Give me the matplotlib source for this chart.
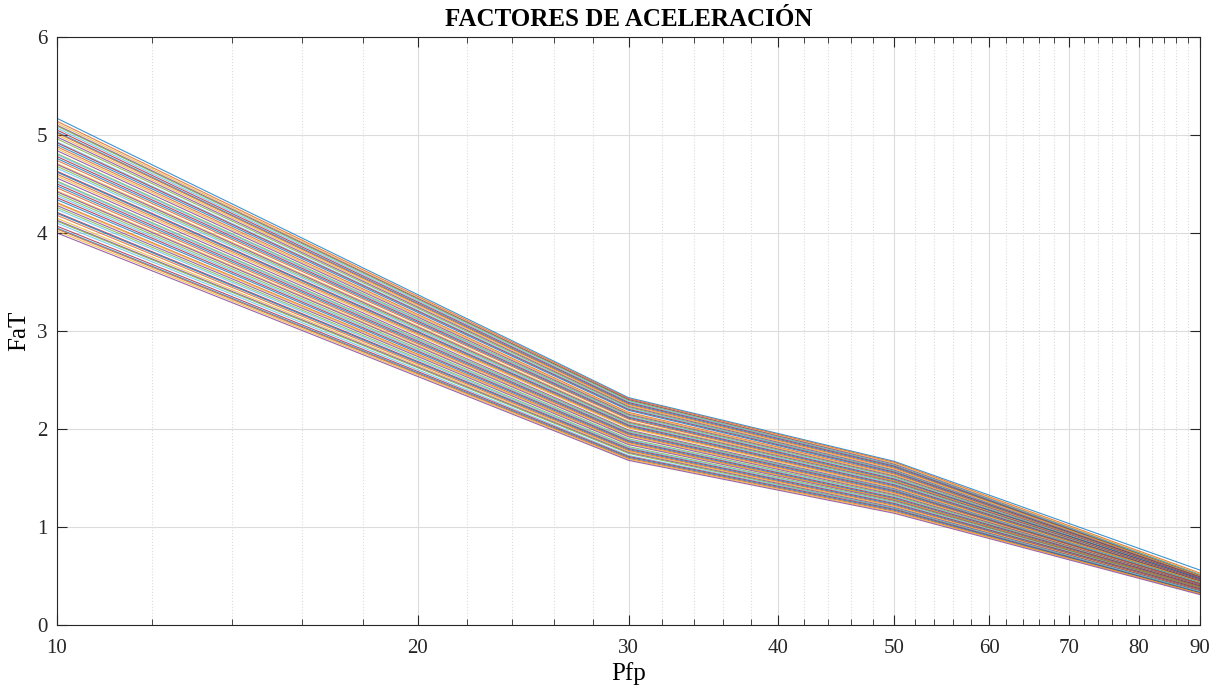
import numpy as np
import matplotlib
matplotlib.use("Agg")
import matplotlib.pyplot as plt
from matplotlib.ticker import FixedLocator, NullFormatter


# Data (one value per curve at each Pfp)

pfp = [10, 30, 50, 90]

fat_10 = [4.00, 4.02, 4.04, 4.05, 4.07, 4.10, 4.12, 4.13, 4.15, 4.18,
          4.20, 4.21, 4.24, 4.26, 4.28, 4.30, 4.31, 4.34, 4.36, 4.38,
          4.40, 4.42, 4.43, 4.46, 4.48, 4.50, 4.52, 4.53, 4.56, 4.58,
          4.60, 4.62, 4.63, 4.66, 4.68, 4.70, 4.71, 4.74, 4.76, 4.78,
          4.80, 4.81, 4.84, 4.86, 4.88, 4.90, 4.92, 4.93, 4.96, 4.98,
          5.00, 5.02, 5.03, 5.05, 5.07, 5.09, 5.10, 5.12, 5.14, 5.17]

fat_30 = [1.68, 1.69, 1.70, 1.71, 1.72, 1.73, 1.75, 1.76, 1.77, 1.78,
          1.79, 1.80, 1.81, 1.82, 1.84, 1.85, 1.86, 1.87, 1.88, 1.89,
          1.90, 1.92, 1.93, 1.94, 1.95, 1.96, 1.97, 1.98, 1.99, 2.01,
          2.02, 2.03, 2.04, 2.05, 2.06, 2.07, 2.08, 2.10, 2.11, 2.12,
          2.13, 2.14, 2.15, 2.16, 2.17, 2.19, 2.20, 2.21, 2.22, 2.23,
          2.24, 2.25, 2.26, 2.27, 2.28, 2.29, 2.30, 2.30, 2.31, 2.32]

fat_50 = [1.14, 1.15, 1.16, 1.17, 1.18, 1.19, 1.19, 1.20, 1.21, 1.22,
          1.23, 1.24, 1.25, 1.26, 1.27, 1.28, 1.28, 1.29, 1.30, 1.31,
          1.32, 1.33, 1.34, 1.35, 1.36, 1.37, 1.38, 1.38, 1.39, 1.40,
          1.41, 1.42, 1.43, 1.44, 1.45, 1.46, 1.47, 1.47, 1.48, 1.49,
          1.50, 1.51, 1.52, 1.53, 1.54, 1.55, 1.56, 1.57, 1.57, 1.58,
          1.59, 1.60, 1.61, 1.62, 1.63, 1.63, 1.64, 1.65, 1.66, 1.67]

fat_90 = [0.31, 0.32, 0.32, 0.33, 0.33, 0.34, 0.34, 0.35, 0.35, 0.36,
          0.36, 0.37, 0.37, 0.38, 0.38, 0.38, 0.39, 0.39, 0.40, 0.40,
          0.40, 0.41, 0.41, 0.42, 0.42, 0.42, 0.43, 0.43, 0.43, 0.44,
          0.44, 0.44, 0.45, 0.45, 0.45, 0.46, 0.46, 0.46, 0.47, 0.47,
          0.47, 0.47, 0.48, 0.48, 0.48, 0.48, 0.49, 0.49, 0.49, 0.49,
          0.50, 0.50, 0.50, 0.50, 0.51, 0.51, 0.51, 0.52, 0.53, 0.56]

x_ticks = [10, 20, 30, 40, 50, 60, 70, 80, 90]
y_ticks = [0, 1, 2, 3, 4, 5, 6]

# MATLAB default colour order
matlab_colors = ['#0072BD', '#D95319', '#EDB120', '#7E2F8E',
                 '#77AC30', '#4DBEEE', '#A2142F']


plt.rcParams['font.family'] = ['Liberation Serif', 'DejaVu Serif']

fig = plt.figure(figsize=(12.21, 6.90), dpi=100)
ax = fig.add_axes([0.0467, 0.0942, 0.9361, 0.8522])
ax.set_prop_cycle(color=matlab_colors)

# one column per curve, highest curve first
fat = np.array([fat_10, fat_30, fat_50, fat_90])[:, ::-1]
ax.plot(pfp, fat, linewidth=0.8, alpha=0.75)

ax.set_xscale('log')
ax.set_xlim(10, 90)
ax.set_ylim(0, 6)
ax.xaxis.set_major_locator(FixedLocator(x_ticks))
ax.set_xticklabels([str(t) for t in x_ticks])
minor = [v for v in range(12, 90, 2) if v % 10 != 0]
ax.xaxis.set_minor_locator(FixedLocator(minor))
ax.xaxis.set_minor_formatter(NullFormatter())
ax.set_yticks(y_ticks)

ax.tick_params(which='both', direction='in', top=True, right=True,
               colors='#262626', labelsize=15)
ax.tick_params(which='major', length=7.5, width=0.8)
ax.tick_params(which='minor', length=4, width=0.6)
ax.tick_params(axis='x', which='major', pad=10)
ax.tick_params(axis='y', which='major', pad=7)

ax.grid(True, which='major', color='#dcdcdc', linewidth=0.8)
ax.grid(True, which='minor', axis='x', color='#dcdcdc', linestyle=':', linewidth=0.8)
ax.set_axisbelow(True)

for s in ax.spines.values():
    s.set_color('#262626')
    s.set_linewidth(0.8)

ax.set_title('FACTORES DE ACELERACIÓN', fontsize=18, fontweight='bold', pad=8)
ax.set_xlabel('Pfp', fontsize=18, labelpad=3)
ax.set_ylabel('FaT', fontsize=18, labelpad=5)

fig.savefig('out.png', dpi=100)
